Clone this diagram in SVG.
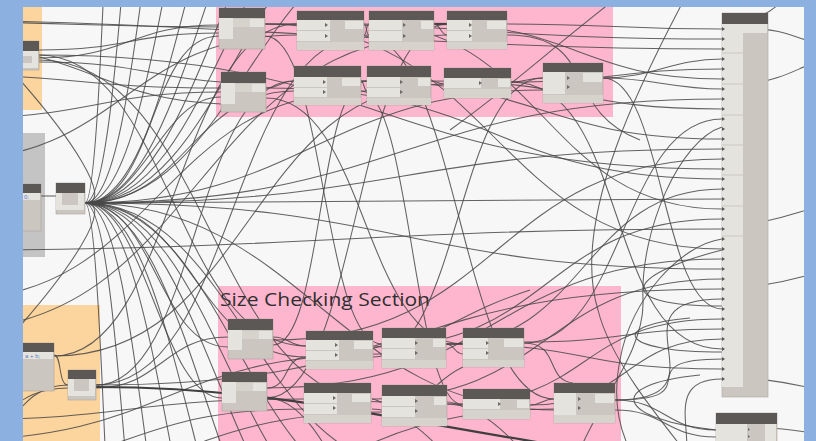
<svg xmlns="http://www.w3.org/2000/svg" width="816" height="441" viewBox="0 0 816 441">
  <style>
    .hd{fill:#5b5855}
    .bd{fill:#cbc7c0;stroke:#aaa69f;stroke-width:.6}
    .lt{fill:#e5e3de}
    .ft{fill:#d6d3cd}
    .ar{fill:#6b6966}
    .w{fill:none;stroke:#484848;stroke-width:1.05;stroke-opacity:.85}
    .wb{fill:none;stroke:#3f3f3f;stroke-width:2.2}
    .grp-pink{fill:#feb6cf}
    .grp-orange{fill:#fcd49d}
    .grp-grey{fill:#c4c4c4}
    .code{font-family:"Liberation Sans",Arial,sans-serif;font-size:6px;fill:#5a7bc8}
  </style>
  <defs>
    <clipPath id="cv"><rect x="23" y="7" width="781" height="434"/></clipPath>
    <pattern id="portmarks" x="722" y="24" width="4" height="10" patternUnits="userSpaceOnUse">
      <path d="M0,3 L3,5 L0,7 Z" fill="#555"/>
    </pattern>
  </defs>

  <!-- window frame -->
  <rect width="816" height="441" fill="#8cb1e1"/>

  <g clip-path="url(#cv)">
    <!-- workspace -->
    <rect x="23" y="7" width="781" height="434" fill="#f7f7f7"/>

    <!-- group backgrounds -->
    <g id="groups">
      <rect class="grp-orange" x="23" y="7" width="19" height="103"/>
      <rect class="grp-pink" x="216" y="7" width="397" height="110"/>
      <rect class="grp-grey" x="23" y="133" width="22" height="124"/>
      <rect class="grp-orange" x="23" y="305" width="77" height="140"/>
      <rect class="grp-pink" x="218" y="286" width="403" height="160"/>
      <text x="220" y="306" font-family="'Open Sans','Noto Sans',sans-serif" font-size="19" fill="#2e2e2e" textLength="210" lengthAdjust="spacingAndGlyphs">Size Checking Section</text>
    </g>

    <!-- connectors -->
    <g id="wires">
      <!-- fan from the list node: upward arcs -->
      <path class="w" d="M85,203 C105,203 110,-400 130,-400"/>
      <path class="w" d="M85,203 C125,203 130,-350 170,-350"/>
      <path class="w" d="M85,203 C145,203 150,-300 210,-300"/>
      <path class="w" d="M85,203 C165,203 180,-300 260,-300"/>
      <path class="w" d="M85,203 C185,203 200,-250 300,-250"/>
      <path class="w" d="M85,203 C195,203 220,-200 330,-200"/>
      <path class="w" d="M85,203 C205,203 230,-150 350,-150"/>
      <path class="w" d="M85,203 C215,203 240,-120 370,-120"/>
      <path class="w" d="M85,203 C225,203 250,-90 390,-90"/>
      <path class="w" d="M85,203 C235,203 260,-60 410,-60"/>
      <!-- fan: downward arcs -->
      <path class="w" d="M85,203 C105,203 110,806 130,806"/>
      <path class="w" d="M85,203 C125,203 130,756 170,756"/>
      <path class="w" d="M85,203 C145,203 150,706 210,706"/>
      <path class="w" d="M85,203 C165,203 180,706 260,706"/>
      <path class="w" d="M85,203 C185,203 200,656 300,656"/>
      <path class="w" d="M85,203 C195,203 220,606 330,606"/>
      <path class="w" d="M85,203 C205,203 230,556 350,556"/>
      <path class="w" d="M85,203 C215,203 240,526 370,526"/>
      <path class="w" d="M85,203 C225,203 250,496 390,496"/>
      <path class="w" d="M85,203 C235,203 260,466 410,466"/>
      <!-- fan: back-curving wires -->
      <path class="w" d="M85,203 C145,203 -90,-60 -150,-60"/>
      <path class="w" d="M85,203 C145,203 -90,466 -150,466"/>
      <!-- fan: visible targets -->
      <path class="w" d="M85,203 C155,203 149,36 219,36"/>
      <path class="w" d="M85,203 C145,203 161,97 221,97"/>
      <path class="w" d="M85,203 C155,203 158,347 228,347"/>
      <path class="w" d="M85,203 C145,203 162,398 222,398"/>
      <path class="w" d="M85,203 C185,203 194,91 294,91"/>
      <path class="w" d="M85,203 C195,203 196,357 306,357"/>
      <path class="w" d="M85,203 C400,203 407,99 722,99"/>
      <path class="w" d="M85,203 C400,203 407,149 722,149"/>
      <path class="w" d="M85,203 C400,203 407,199 722,199"/>
      <path class="w" d="M85,203 C400,203 407,269 722,269"/>
      <path class="w" d="M85,203 C300,203 328,90 543,90"/>
      <path class="w" d="M85,203 C300,203 339,410 554,410"/>
      <path class="w" d="M41,196 L56,196"/>

      <!-- top group internal links -->
      <path class="w" d="M265,24 C280,24 282,24 297,24"/>
      <path class="w" d="M364,24 C367,24 366,35 369,35"/>
      <path class="w" d="M364,35 C367,35 366,24 369,24"/>
      <path class="wb" d="M434,24 C440,24 441,24 447,24"/>
      <path class="w" d="M434,24 C440,24 441,35 447,35"/>
      <path class="w" d="M266,88 C280,88 280,81 294,81"/>
      <path class="w" d="M361,81 C364,81 364,91 367,91"/>
      <path class="w" d="M361,81 C364,81 364,81 367,81"/>
      <path class="w" d="M431,81 C437,81 438,84 444,84"/>
      <path class="w" d="M511,82 C527,82 527,78 543,78"/>

      <!-- wires into the output list -->
      <path class="w" d="M507,24 C607,24 622,29 722,29"/>
      <path class="w" d="M265,24 C485,24 502,39 722,39"/>
      <path class="w" d="M-100,20 C200,20 422,49 722,49"/>
      <path class="w" d="M603,78 C653,78 672,59 722,59"/>
      <path class="w" d="M511,82 C611,82 622,69 722,69"/>
      <path class="w" d="M434,24 C574,24 582,79 722,79"/>
      <path class="w" d="M603,78 C653,78 672,89 722,89"/>
      <path class="w" d="M431,81 C581,81 572,109 722,109"/>
      <path class="w" d="M524,343 C624,343 622,119 722,119"/>
      <path class="w" d="M722,127 C680,140 640,230 643,300 C645,350 600,400 580,450"/>
      <path class="w" d="M361,81 C541,81 542,139 722,139"/>
      <path class="w" d="M273,340 C503,340 492,159 722,159"/>
      <path class="w" d="M39,55 C379,55 382,169 722,169"/>
      <path class="w" d="M266,88 C496,88 492,179 722,179"/>
      <path class="w" d="M446,344 C586,344 582,189 722,189"/>
      <path class="w" d="M364,24 C544,24 542,209 722,209"/>
      <path class="w" d="M373,347 C553,347 542,219 722,219"/>
      <path class="w" d="M-50,250 C300,250 372,229 722,229"/>
      <path class="w" d="M722,239 C680,245 630,300 620,360 C612,400 620,430 630,450"/>
      <path class="w" d="M265,24 C495,24 492,249 722,249"/>
      <path class="w" d="M267,388 C497,388 492,259 722,259"/>
      <path class="w" d="M372,399 C552,399 542,279 722,279"/>
      <path class="w" d="M96,385 C426,385 392,289 722,289"/>
      <path class="w" d="M615,400 C735,400 602,299 722,299"/>
      <path class="w" d="M603,78 C663,78 662,309 722,309"/>
      <path class="w" d="M447,404 C597,404 572,319 722,319"/>
      <path class="w" d="M524,342 C624,342 622,329 722,329"/>
      <path class="w" d="M530,405 C630,405 622,339 722,339"/>
      <path class="w" d="M511,82 C631,82 602,349 722,349"/>
      <path class="w" d="M615,400 C715,400 622,359 722,359"/>
      <path class="w" d="M446,344 C596,344 572,369 722,369"/>
      <path class="w" d="M650,480 C730,480 642,379 722,379"/>

      <!-- loops left of the output list -->
      <path class="w" d="M722,306 C610,306 625,275 722,250"/>
      <path class="w" d="M722,352 C615,352 610,325 690,318"/>
      <path class="w" d="M716,430 C620,420 600,385 700,375"/>
      <path class="w" d="M700,-30 C640,80 570,220 598,310 C610,360 660,420 700,470"/>

      <!-- wires leaving to the right -->
      <path class="w" d="M750,29 C790,29 795,40 830,46"/>
      <path class="w" d="M750,84 C790,78 800,65 830,58"/>
      <path class="w" d="M750,224 C790,218 800,210 830,204"/>
      <path class="w" d="M750,287 C790,282 800,276 830,270"/>
      <path class="w" d="M750,378 C790,382 800,386 830,392"/>
      <path class="w" d="M760,428 C795,428 805,433 830,436"/>
      <path class="w" d="M760,16 C770,12 776,8 782,0"/>
      <path class="w" d="M615,400 C665,400 666,430 716,430"/>
      <path class="w" d="M615,410 C665,410 666,437 716,437"/>

      <!-- cross-canvas links -->
      <path class="w" d="M39,55 C169,55 176,346 306,346"/>
      <path class="w" d="M39,58 C129,58 129,25 219,25"/>
      <path class="w" d="M39,50 C130,50 130,33 219,33"/>
      <path class="w" d="M39,62 C140,62 150,78 221,82"/>
      <path class="w" d="M-60,22 C80,22 80,27 219,27"/>
      <path class="w" d="M-60,45 C80,45 100,100 221,104"/>
      <path class="w" d="M-60,75 C80,75 81,88 221,88"/>
      <path class="w" d="M-40,118 C90,118 100,92 221,92"/>
      <path class="w" d="M-50,160 C120,160 127,35 297,35"/>
      <path class="w" d="M96,385 C196,385 194,81 294,81"/>
      <path class="w" d="M96,385 C236,385 229,35 369,35"/>
      <path class="w" d="M54,355 C62,355 58,385 68,385"/>
      <path class="w" d="M-50,300 C160,300 157,91 367,91"/>
      <path class="w" d="M-50,330 C200,330 197,35 447,35"/>
      <path class="w" d="M-50,420 C130,420 124,399 304,399"/>
      <path class="w" d="M-50,440 C170,440 162,354 382,354"/>
      <path class="w" d="M39,60 C209,60 212,402 382,402"/>
      <path class="w" d="M265,36 C325,36 322,344 382,344"/>
      <path class="w" d="M266,98 C366,98 363,344 463,344"/>
      <path class="w" d="M364,36 C459,36 459,399 554,399"/>
      <path class="w" d="M273,345 C323,345 317,81 367,81"/>
      <path class="w" d="M267,398 C357,398 357,24 447,24"/>
      <path class="w" d="M361,91 C411,91 413,405 463,405"/>
      <path class="w" d="M373,357 C458,357 458,78 543,78"/>
      <path class="w" d="M96,388 C160,388 164,337 228,337"/>
      <path class="wb" d="M96,387 C300,387 420,430 720,470"/>
      <path class="w" d="M54,356 C174,356 177,24 297,24"/>
      <path class="w" d="M54,356 C249,356 249,84 444,84"/>
      <path class="w" d="M-50,460 C10,460 8,385 68,385"/>
      <path class="w" d="M-50,430 C9,430 9,388 68,388"/>
      <path class="w" d="M450,130 C520,80 560,40 640,-20"/>
      <path class="w" d="M507,35 C600,35 560,110 640,140"/>

      <!-- bottom group internal links -->
      <path class="w" d="M273,337 C290,337 289,346 306,346"/>
      <path class="w" d="M267,388 C290,388 283,357 306,357"/>
      <path class="w" d="M373,346 C378,346 377,344 382,344"/>
      <path class="w" d="M446,344 C455,344 454,344 463,344"/>
      <path class="w" d="M446,344 C455,344 454,354 463,354"/>
      <path class="w" d="M372,399 C377,399 377,402 382,402"/>
      <path class="w" d="M447,402 C455,402 455,405 463,405"/>
      <path class="w" d="M530,405 C542,405 542,399 554,399"/>
      <path class="w" d="M524,343 C560,343 545,380 573,383"/>
      <path class="w" d="M463,367 C452,372 445,378 437,385"/>
      <path class="w" d="M443,328 C470,315 485,305 530,290"/>

      <!-- wires leaving past the bottom edge -->
      <path class="w" d="M372,409 C452,409 520,600 600,600"/>
      <path class="w" d="M267,398 C330,398 360,560 420,560"/>
      <path class="w" d="M447,404 C520,404 580,560 650,560"/>
      <path class="w" d="M-50,470 C130,470 124,409 304,409"/>
      <path class="w" d="M-50,500 C160,500 172,412 382,412"/>
      <path class="w" d="M100,520 C330,520 324,409 554,409"/>
    </g>

    <!-- nodes: top group -->
    <g id="node-top-1" transform="translate(219,8)">
      <rect class="bd" width="46" height="41"/>
      <rect class="lt" y="10" width="14" height="21"/>
      <rect class="ft" x="14" y="11" width="17" height="8"/>
      <rect class="lt" x="31" y="11" width="14" height="8"/>
      <rect class="hd" width="46" height="10"/>
    </g>
    <g id="node-top-2" transform="translate(297,11)">
      <rect class="bd" width="67" height="39"/>
      <rect class="lt" y="9" width="33" height="10"/>
      <rect class="lt" y="20" width="33" height="10"/>
      <rect class="ft" y="31" width="67" height="8"/>
      <rect class="lt" x="48" y="10" width="18" height="8"/>
      <path class="ar" d="M28,12 l3,2 -3,2z M28,23 l3,2 -3,2z"/>
      <rect class="hd" width="67" height="9"/>
    </g>
    <g id="node-top-3" transform="translate(369,11)">
      <rect class="bd" width="65" height="39"/>
      <rect class="lt" y="9" width="33" height="10"/>
      <rect class="lt" y="20" width="33" height="10"/>
      <rect class="ft" y="31" width="65" height="8"/>
      <rect class="lt" x="52" y="10" width="12" height="8"/>
      <path class="ar" d="M34,12 l3,2 -3,2z M34,23 l3,2 -3,2z"/>
      <rect class="hd" width="65" height="9"/>
    </g>
    <g id="node-top-4" transform="translate(447,11)">
      <rect class="bd" width="60" height="38"/>
      <rect class="lt" y="9" width="25" height="10"/>
      <rect class="lt" y="20" width="25" height="10"/>
      <rect class="ft" y="31" width="60" height="7"/>
      <rect class="lt" x="40" y="10" width="19" height="8"/>
      <path class="ar" d="M22,12 l3,2 -3,2z M22,23 l3,2 -3,2z"/>
      <rect class="hd" width="60" height="9"/>
    </g>
    <g id="node-top-5" transform="translate(221,72)">
      <rect class="bd" width="45" height="40"/>
      <rect class="lt" y="11" width="14" height="21"/>
      <rect class="ft" x="14" y="12" width="17" height="8"/>
      <rect class="lt" x="31" y="12" width="13" height="8"/>
      <rect class="hd" width="45" height="11"/>
    </g>
    <g id="node-top-6" transform="translate(294,66)">
      <rect class="bd" width="67" height="39"/>
      <rect class="lt" y="11" width="33" height="10"/>
      <rect class="lt" y="22" width="33" height="9"/>
      <rect class="ft" y="32" width="67" height="7"/>
      <rect class="lt" x="48" y="12" width="18" height="8"/>
      <path class="ar" d="M29,14 l3,2 -3,2z M29,24 l3,2 -3,2z"/>
      <rect class="hd" width="67" height="11"/>
    </g>
    <g id="node-top-7" transform="translate(367,66)">
      <rect class="bd" width="64" height="39"/>
      <rect class="lt" y="11" width="33" height="10"/>
      <rect class="lt" y="22" width="33" height="9"/>
      <rect class="ft" y="32" width="64" height="7"/>
      <rect class="lt" x="51" y="12" width="12" height="8"/>
      <path class="ar" d="M33,14 l3,2 -3,2z M33,24 l3,2 -3,2z"/>
      <rect class="hd" width="64" height="11"/>
    </g>
    <g id="node-top-8" transform="translate(444,68)">
      <rect class="bd" width="67" height="30"/>
      <rect class="lt" y="10" width="37" height="10"/>
      <rect class="ft" y="21" width="67" height="9"/>
      <rect class="lt" x="54" y="11" width="12" height="8"/>
      <path class="ar" d="M35,13 l3,2 -3,2z"/>
      <rect class="hd" width="67" height="10"/>
    </g>
    <g id="node-top-9" transform="translate(543,63)">
      <rect class="bd" width="60" height="40"/>
      <rect class="lt" y="9" width="22" height="22"/>
      <rect class="ft" y="32" width="60" height="8"/>
      <rect class="lt" x="40" y="10" width="19" height="9"/>
      <path class="ar" d="M24,13 l3,2 -3,2z M24,22 l3,2 -3,2z"/>
      <rect class="hd" width="60" height="9"/>
    </g>

    <!-- nodes: size checking group -->
    <g id="node-size-1" transform="translate(228,319)">
      <rect class="bd" width="45" height="40"/>
      <rect class="lt" y="11" width="14" height="20"/>
      <rect class="ft" x="14" y="12" width="17" height="8"/>
      <rect class="lt" x="31" y="12" width="13" height="8"/>
      <rect class="hd" width="45" height="11"/>
    </g>
    <g id="node-size-2" transform="translate(306,331)">
      <rect class="bd" width="67" height="38"/>
      <rect class="lt" y="9" width="33" height="10"/>
      <rect class="lt" y="20" width="33" height="9"/>
      <rect class="ft" y="30" width="67" height="8"/>
      <rect class="lt" x="48" y="10" width="18" height="8"/>
      <path class="ar" d="M29,12 l3,2 -3,2z M29,22 l3,2 -3,2z"/>
      <rect class="hd" width="67" height="9"/>
    </g>
    <g id="node-size-3" transform="translate(382,328)">
      <rect class="bd" width="64" height="40"/>
      <rect class="lt" y="10" width="33" height="10"/>
      <rect class="lt" y="21" width="33" height="10"/>
      <rect class="ft" y="32" width="64" height="8"/>
      <rect class="lt" x="51" y="11" width="12" height="8"/>
      <path class="ar" d="M33,13 l3,2 -3,2z M33,23 l3,2 -3,2z"/>
      <rect class="hd" width="64" height="10"/>
    </g>
    <g id="node-size-4" transform="translate(463,328)">
      <rect class="bd" width="61" height="39"/>
      <rect class="lt" y="10" width="25" height="10"/>
      <rect class="lt" y="21" width="25" height="10"/>
      <rect class="ft" y="32" width="61" height="7"/>
      <rect class="lt" x="41" y="11" width="19" height="8"/>
      <path class="ar" d="M23,13 l3,2 -3,2z M23,23 l3,2 -3,2z"/>
      <rect class="hd" width="61" height="10"/>
    </g>
    <g id="node-size-5" transform="translate(222,372)">
      <rect class="bd" width="45" height="39"/>
      <rect class="lt" y="10" width="14" height="21"/>
      <rect class="ft" x="14" y="11" width="17" height="8"/>
      <rect class="lt" x="31" y="11" width="13" height="8"/>
      <rect class="hd" width="45" height="10"/>
    </g>
    <g id="node-size-6" transform="translate(304,383)">
      <rect class="bd" width="67" height="40"/>
      <rect class="lt" y="10" width="33" height="10"/>
      <rect class="lt" y="21" width="33" height="10"/>
      <rect class="ft" y="32" width="67" height="8"/>
      <rect class="lt" x="48" y="11" width="18" height="8"/>
      <path class="ar" d="M29,13 l3,2 -3,2z M29,23 l3,2 -3,2z"/>
      <rect class="hd" width="67" height="10"/>
    </g>
    <g id="node-size-7" transform="translate(382,385)">
      <rect class="bd" width="65" height="41"/>
      <rect class="lt" y="11" width="33" height="10"/>
      <rect class="lt" y="22" width="33" height="10"/>
      <rect class="ft" y="33" width="65" height="8"/>
      <rect class="lt" x="52" y="12" width="12" height="8"/>
      <path class="ar" d="M33,14 l3,2 -3,2z M33,24 l3,2 -3,2z"/>
      <rect class="hd" width="65" height="11"/>
    </g>
    <g id="node-size-8" transform="translate(463,389)">
      <rect class="bd" width="67" height="30"/>
      <rect class="lt" y="10" width="37" height="10"/>
      <rect class="ft" y="21" width="67" height="9"/>
      <rect class="lt" x="54" y="11" width="12" height="8"/>
      <path class="ar" d="M35,13 l3,2 -3,2z"/>
      <rect class="hd" width="67" height="10"/>
    </g>
    <g id="node-size-9" transform="translate(554,383)">
      <rect class="bd" width="61" height="40"/>
      <rect class="lt" y="10" width="22" height="22"/>
      <rect class="ft" y="32" width="61" height="8"/>
      <rect class="lt" x="41" y="11" width="19" height="9"/>
      <path class="ar" d="M24,14 l3,2 -3,2z M24,23 l3,2 -3,2z"/>
      <rect class="hd" width="61" height="10"/>
    </g>

    <!-- nodes: left side -->
    <g id="node-input-top" transform="translate(12,41)">
      <rect class="bd" width="27" height="29"/>
      <rect class="lt" y="10" width="20" height="5"/>
      <rect class="lt" x="20" y="10" width="6" height="12"/>
      <rect class="lt" y="22" width="26" height="5"/>
      <rect class="hd" width="27" height="10"/>
    </g>
    <g id="node-code-mid" transform="translate(10,184)">
      <rect class="bd" width="31" height="47"/>
      <rect class="lt" y="9" width="30" height="7"/>
      <text class="code" x="14" y="15">0;</text>
      <rect class="hd" width="31" height="9"/>
    </g>
    <g id="node-list" transform="translate(56,183)">
      <rect class="bd" width="29" height="31"/>
      <rect class="lt" y="10" width="6" height="12"/>
      <rect class="lt" x="22" y="10" width="6" height="12"/>
      <rect class="lt" y="22" width="28" height="5"/>
      <rect class="hd" width="29" height="10"/>
    </g>
    <g id="node-code-low" transform="translate(10,343)">
      <rect class="bd" width="44" height="48"/>
      <rect class="lt" y="9" width="43" height="7"/>
      <text class="code" x="15" y="15">a + b;</text>
      <rect class="hd" width="44" height="9"/>
    </g>
    <g id="node-list-low" transform="translate(68,370)">
      <rect class="bd" width="28" height="30"/>
      <rect class="lt" y="9" width="6" height="12"/>
      <rect class="lt" x="21" y="9" width="6" height="12"/>
      <rect class="lt" y="21" width="27" height="5"/>
      <rect class="hd" width="28" height="9"/>
    </g>

    <!-- nodes: right side -->
    <g id="node-output-list">
      <rect class="bd" x="722" y="13" width="46" height="384"/>
      <rect class="lt" x="722" y="24" width="21" height="363"/>
      <rect class="lt" x="743" y="24" width="24" height="9"/>
      <path d="M722,53H743M722,84H743M722,115H743M722,145H743M722,175H743M722,206H743M722,236H743" stroke="#c6c2bb" stroke-width=".8"/>
      <rect x="722" y="24" width="4" height="360" fill="url(#portmarks)"/>
      <rect class="hd" x="722" y="13" width="46" height="11"/>
    </g>
    <g id="node-bottom-right" transform="translate(716,413)">
      <rect class="bd" width="61" height="40"/>
      <rect class="lt" y="11" width="31" height="30"/>
      <rect class="lt" x="49" y="11" width="11" height="30"/>
      <path class="ar" d="M32,15 l2,1.5 -2,1.5z M32,22 l2,1.5 -2,1.5z"/>
      <rect class="hd" width="61" height="11"/>
    </g>
  </g>
</svg>
